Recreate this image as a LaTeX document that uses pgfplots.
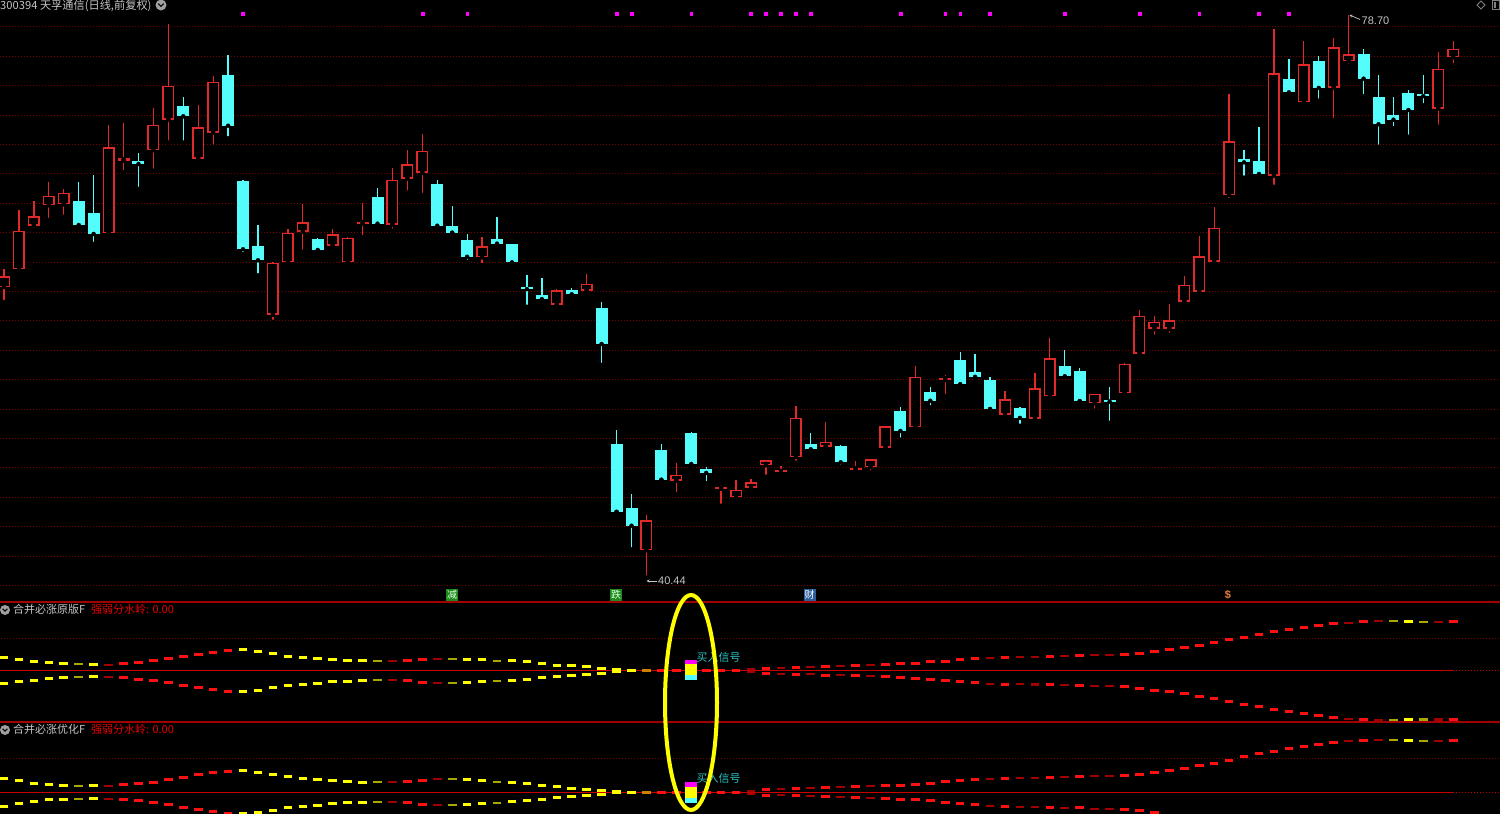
\documentclass[border=0pt]{standalone}
\usepackage{pgfplots}
\pgfplotsset{compat=1.18}
\usepackage{pgfplotstable}
\usepackage{fontspec}
\setmainfont{Liberation Sans}
\newfontfamily\cjk{Noto Sans CJK SC}
\usetikzlibrary{arrows.meta}

\definecolor{cRed}{HTML}{E02A2A}
\definecolor{cCyan}{HTML}{54FCFC}
\definecolor{gridC}{HTML}{7A0000}
\definecolor{sepC}{HTML}{A00000}
\definecolor{midC}{HTML}{C80000}
\definecolor{cYel}{HTML}{FFFF00}
\definecolor{cDYel}{HTML}{A8A800}
\definecolor{cR2}{HTML}{FF1010}
\definecolor{cDR}{HTML}{A00000}
\definecolor{cOr}{HTML}{D08000}
\definecolor{txtG}{HTML}{C4C4C4}
\definecolor{sigT}{HTML}{2CC0C0}
\definecolor{cMag}{HTML}{FF00FF}
\definecolor{tagG}{HTML}{1E8A1E}
\definecolor{tagB}{HTML}{2E5E9E}
\definecolor{tagO}{HTML}{E8803C}

% up (red) candles: index, open, high, low, close
\pgfplotstableread{
i O H L C
0 60.20 61.43 59.18 60.95
1 61.41 65.44 61.35 64.03
2 64.37 66.05 64.08 65.03
3 65.76 67.36 64.76 66.41
4 65.83 66.87 64.98 66.62
7 63.86 71.22 63.80 69.72
8 68.79 71.36 68.00 68.98
10 69.50 72.36 68.11 71.22
11 71.58 78.09 70.02 73.89
13 68.93 72.58 68.89 71.08
14 70.70 74.53 69.74 74.16
18 58.30 61.90 57.84 61.86
19 61.88 64.13 61.85 63.88
20 63.96 65.87 62.60 64.60
22 63.01 64.13 62.77 63.79
23 61.88 63.60 61.70 63.56
24 64.52 65.90 63.58 64.64
26 64.44 68.28 64.03 67.48
27 67.57 69.54 66.62 68.55
28 67.96 70.61 66.46 69.47
32 62.22 63.62 61.70 62.97
37 59.00 60.05 58.97 59.98
39 59.95 61.11 59.82 60.43
43 42.30 44.70 40.44 44.34
45 47.03 48.22 46.11 47.44
48 46.48 46.74 45.33 46.62
49 45.90 47.08 45.88 46.42
50 46.54 47.13 46.52 46.94
51 48.08 48.45 47.30 48.42
52 47.60 48.05 47.47 47.76
53 48.64 52.11 48.26 51.32
55 49.34 51.00 49.32 49.68
57 47.77 48.37 47.56 47.90
58 47.96 48.52 47.58 48.49
59 49.28 50.78 49.25 50.75
61 50.68 54.85 50.65 54.10
63 53.88 54.20 52.79 54.04
67 51.52 53.13 51.38 52.57
69 51.23 54.38 51.09 53.32
70 52.77 56.74 52.75 55.36
73 52.30 52.96 51.79 52.93
75 52.98 55.02 52.77 54.99
76 55.65 58.64 55.63 58.25
77 57.35 58.23 56.82 57.84
78 57.35 59.05 56.94 57.94
79 59.20 60.95 59.18 60.36
80 59.88 63.67 59.78 62.31
81 61.92 65.62 61.77 64.24
82 66.44 73.33 66.12 70.11
85 67.77 77.73 67.02 74.74
87 72.76 76.91 72.74 75.35
89 73.76 77.12 71.56 76.52
90 75.57 78.70 75.25 76.03
96 72.33 76.20 71.10 75.03
97 75.82 76.91 75.28 76.41
}\upT

% down (cyan) candles
\pgfplotstableread{
i O H L C
5 66.05 67.32 64.24 64.42
6 65.26 67.82 63.13 63.81
9 68.77 69.30 66.87 68.57
12 72.53 73.14 70.02 71.81
15 74.60 75.98 70.32 71.17
16 67.43 67.48 62.45 62.77
17 62.99 64.42 61.00 62.02
21 63.49 63.52 62.45 62.72
25 66.34 66.92 64.30 64.51
29 67.19 67.48 64.08 64.37
30 64.37 65.71 63.87 63.90
31 63.38 63.81 61.92 62.26
33 63.49 64.98 62.99 63.15
34 63.11 63.15 61.65 61.88
35 60.18 61.00 58.86 60.06
36 59.68 60.80 59.35 59.37
38 60.02 60.12 59.50 59.71
40 58.80 59.16 54.90 56.33
41 49.51 50.48 44.90 44.92
42 45.20 46.13 42.37 43.97
44 49.12 49.51 47.08 47.10
46 50.26 50.36 48.05 48.17
47 47.85 47.98 46.86 47.56
54 49.51 50.26 49.00 49.17
56 49.37 49.48 47.96 48.28
60 51.75 52.02 49.82 50.41
62 53.04 53.42 52.02 52.47
64 55.24 55.80 53.57 53.59
65 54.42 55.65 53.88 54.10
66 53.86 54.10 51.89 51.91
68 52.00 52.03 50.77 51.30
71 54.85 55.94 54.11 54.13
72 54.51 54.68 52.43 52.45
74 52.53 53.38 50.96 52.41
83 68.93 69.52 67.64 68.68
84 68.75 71.10 67.64 67.89
86 74.35 75.71 73.28 73.44
88 75.55 75.91 72.87 73.74
91 76.03 76.39 73.17 74.37
92 73.10 74.60 69.74 71.27
93 71.90 73.10 71.00 71.58
94 73.42 73.60 70.42 72.24
95 73.31 74.60 72.56 73.19
}\downT

% signal dots at top
\pgfplotstableread{
i v
16 78.77
28 78.77
31 78.77
41 78.77
42 78.77
46 78.77
50 78.77
51 78.77
52 78.77
53 78.77
54 78.77
60 78.77
63 78.77
64 78.77
66 78.77
71 78.77
76 78.77
80 78.77
84 78.77
86 78.77
}\dotT

% indicator: distance from the watershed line (panel 2: d2, panel 3: d3), colour class
\pgfplotstableread{
i d2 d3 c
0 13 14 Y
1 11 11.3 Y
2 9.5 9 Y
3 8 7.6 Y
4 7 7 Y
5 6.5 6.6 DY
6 6 6.3 Y
7 6 6.3 DR
8 7 7.3 R
9 8.5 8.6 R
10 10 10 R
11 12 12.3 R
12 14.5 15 R
13 16.5 17.3 R
14 18.5 19.3 R
15 20.5 21 R
16 21 21.6 Y
17 19.5 20 Y
18 17 18 Y
19 14.5 15.3 Y
20 13.5 14 Y
21 12.5 13 Y
22 11.3 11.6 Y
23 10.5 10.6 Y
24 9.7 10 Y
25 9.5 10 DY
26 9.3 10 DR
27 10 10.3 R
28 11.5 12 R
29 12 13 DR
30 12 13 DY
31 11.5 12.6 Y
32 11 11.6 Y
33 10 10.6 DY
34 9.7 9.6 Y
35 8.7 8.3 Y
36 6.8 7 Y
37 5.4 5.3 Y
38 4.7 4 Y
39 3.8 3 Y
40 2.4 2 Y
41 1 0.5 Y
42 0.3 0 Y
43 0 0 O
44 0 0 R
45 0 0 R
47 0 0 R
48 0 0 R
49 0 0 R
50 1.7 1.3 DR
51 2.5 3 R
52 3 3 DR
53 3.4 3.3 R
54 3.7 4 DR
55 4.4 4.6 R
56 4.7 5 DR
57 5 5.3 R
58 5.5 6 DR
59 5.9 6.6 R
60 6.9 7 R
61 7.5 7.6 R
62 8.7 8.6 R
63 9.5 10.3 R
64 10.8 11.3 R
65 12.3 12.3 R
66 13 13.6 DR
67 13.4 14 R
68 13.7 14.6 DR
69 13.8 14.6 DR
70 14.3 15 R
71 14.5 15.3 DR
72 15.2 15.6 R
73 15.4 16.3 DR
74 15.5 16.3 DR
75 16.2 17 R
76 17.5 18 R
77 19.4 20 R
78 21 22 R
79 23 24 R
80 25.4 26.3 R
81 28 28.6 R
82 30.7 32 R
83 33.4 35.6 R
84 36.3 38.3 R
85 39 40.6 R
86 41.3 43.3 R
87 43 45.6 R
88 45 47.6 R
89 46.7 49.6 R
90 47.9 51 DR
91 49.2 51.6 R
92 49.5 52.3 DR
93 49.5 52.3 DY
94 49.2 51.6 Y
95 48.8 51.6 DY
96 48.8 51.3 DR
97 49.2 51.6 R
}\indT

\pgfplotsset{
  base/.style={scale only axis, width=1500pt, xmin=-0.268, xmax=100.13,
    axis line style={draw=none}, xtick=\empty, ytick=\empty, clip=true,
    anchor=south west},
  ebar/.style 2 args={only marks, mark=none, forget plot,
    error bars/.cd, y dir=plus, y explicit, error mark=none,
    error bar style={line width=#1, draw=#2, line cap=butt}},
  dashes/.style={scatter, only marks, mark size=4.3pt, forget plot,
    scatter src=explicit symbolic,
    scatter/classes={
      Y={mark=-, draw=cYel, line width=3pt},
      DY={mark=-, draw=cDYel, line width=2.3pt},
      R={mark=-, draw=cR2, line width=3pt},
      DR={mark=-, draw=cDR, line width=2.1pt},
      O={mark=-, draw=cOr, line width=3pt}}},
  sigbox/.style={draw=none, fill=#1, forget plot},
}

\begin{document}
\begin{tikzpicture}
\useasboundingbox (0pt,0pt) rectangle (1500pt,814pt);
\fill[black] (0pt,0pt) rectangle (1500pt,814pt);

% ---------------- main candlestick panel ----------------
\begin{axis}[base, at={(0pt,212pt)}, height=602pt,
  ymin=38.784, ymax=79.72,
  ytick={39.9,41.9,...,77.9}, yticklabel=\empty, major tick length=0pt,
  ymajorgrids, major grid style={gridC, line width=0.9pt, dash pattern=on 0.9pt off 2.1pt}]
% wicks
\addplot[ebar={1.3pt}{cRed}] table[x=i, y=L, y error plus expr=\thisrow{H}-\thisrow{L}] {\upT};
\addplot[ebar={1.3pt}{cCyan}] table[x=i, y=L, y error plus expr=\thisrow{H}-\thisrow{L}] {\downT};
% bodies
\addplot[ebar={12pt}{cRed}] table[x=i, y=O, y error plus expr=\thisrow{C}-\thisrow{O}] {\upT};
\addplot[ebar={9pt}{black}] table[x=i, y expr=\thisrow{O}+0.102, y error plus expr={max(\thisrow{C}-\thisrow{O}-0.204,0)}] {\upT};
\addplot[ebar={12pt}{cCyan}] table[x=i, y=C, y error plus expr=\thisrow{O}-\thisrow{C}] {\downT};
% top signal dots
\addplot[only marks, mark=square*, mark size=1.4pt, cMag, forget plot] table[x=i, y=v] {\dotT};
\end{axis}

% ---------------- panel 2 ----------------
\begin{axis}[base, at={(0pt,92pt)}, height=120pt, ymin=-51.3, ymax=68.7]
\addplot[gridC, line width=0.9pt, dash pattern=on 0.9pt off 2.1pt, forget plot] coordinates {(-1,32.4) (101,32.4)};
\addplot[midC, line width=1.2pt, forget plot] coordinates {(-1,0) (97,0)};
\addplot[midC, line width=1pt, dash pattern=on 1pt off 2pt, forget plot] coordinates {(97,0) (101,0)};
\addplot[dashes] table[x=i, y=d2, meta=c] {\indT};
\addplot[dashes] table[x=i, y expr=-\thisrow{d2}, meta=c] {\indT};
\addplot[sigbox=cCyan] coordinates {(45.6,-9.3) (46.4,-9.3) (46.4,-4.3) (45.6,-4.3)} -- cycle;
\addplot[sigbox=cYel] coordinates {(45.6,-4.3) (46.4,-4.3) (46.4,6.4) (45.6,6.4)} -- cycle;
\addplot[sigbox=cMag] coordinates {(45.6,6.4) (46.4,6.4) (46.4,10.7) (45.6,10.7)} -- cycle;
\node[anchor=west, inner sep=0pt, text=sigT, font=\cjk\fontsize{11}{11}\selectfont] at (axis cs:46.35,13.7) {买入信号};
\end{axis}

% ---------------- panel 3 ----------------
\begin{axis}[base, at={(0pt,0pt)}, height=92pt, ymin=-21.7, ymax=70.3]
\addplot[gridC, line width=0.9pt, dash pattern=on 0.9pt off 2.1pt, forget plot] coordinates {(-1,33.6) (101,33.6)};
\addplot[midC, line width=1.2pt, forget plot] coordinates {(-1,0) (97,0)};
\addplot[midC, line width=1pt, dash pattern=on 1pt off 2pt, forget plot] coordinates {(97,0) (101,0)};
\addplot[dashes] table[x=i, y=d3, meta=c] {\indT};
\addplot[dashes] table[x=i, y expr=-\thisrow{d3}, meta=c] {\indT};
\addplot[sigbox=cCyan] coordinates {(45.6,-10.4) (46.4,-10.4) (46.4,-6) (45.6,-6)} -- cycle;
\addplot[sigbox=cYel] coordinates {(45.6,-6) (46.4,-6) (46.4,5.6) (45.6,5.6)} -- cycle;
\addplot[sigbox=cMag] coordinates {(45.6,5.6) (46.4,5.6) (46.4,10) (45.6,10)} -- cycle;
\node[anchor=west, inner sep=0pt, text=sigT, font=\cjk\fontsize{11}{11}\selectfont] at (axis cs:46.35,14) {买入信号};
\end{axis}

% ---------------- separators ----------------
\draw[sepC, line width=1.2pt] (0pt,212pt) -- (1500pt,212pt);
\draw[sepC, line width=1.2pt] (0pt,92pt) -- (1500pt,92pt);

% ---------------- texts and icons ----------------
\node[anchor=base west, inner sep=0pt, text=txtG, font=\cjk\fontsize{11.2}{11.2}\selectfont] at (0pt,804.5pt) {300394 天孚通信(日线,前复权)};
\fill[gray!75] (161pt,809pt) circle (5.5pt);
\draw[black, line width=1.2pt] (158.3pt,810.3pt) -- (161pt,807.6pt) -- (163.7pt,810.3pt);
\draw[gray, line width=0.8pt] (1481pt,813pt) -- (1485pt,809pt) -- (1481pt,805pt) -- (1477pt,809pt) -- cycle;
\draw[gray, line width=0.8pt] (1492.5pt,804.5pt) rectangle (1499.5pt,813.5pt);
\fill[gray] (1494pt,806pt) rectangle (1496pt,812pt);

% price extremes
\draw[txtG, line width=0.7pt, -{Stealth[length=3pt,width=3pt]}] (1360pt,794.5pt) -- (1349.5pt,799pt);
\node[anchor=base west, inner sep=0pt, text=txtG, font=\fontsize{11}{11}\selectfont] at (1361.5pt,789pt) {78.70};
\draw[txtG, line width=0.7pt, -{Stealth[length=3pt,width=3pt]}] (657pt,233pt) -- (646.5pt,233pt);
\node[anchor=base west, inner sep=0pt, text=txtG, font=\fontsize{11}{11}\selectfont] at (658pt,229pt) {40.44};

% event markers
\node[fill=tagG, text=white!85!green, inner sep=0pt, minimum width=12pt, minimum height=12pt, font=\cjk\fontsize{10}{10}\selectfont] at (452pt,219pt) {减};
\node[fill=tagG, text=white!85!green, inner sep=0pt, minimum width=12pt, minimum height=12pt, font=\cjk\fontsize{10}{10}\selectfont] at (616pt,219pt) {跌};
\node[fill=tagB, text=white, inner sep=0pt, minimum width=12pt, minimum height=12pt, font=\cjk\fontsize{10}{10}\selectfont] at (809.7pt,219pt) {财};
\node[text=tagO, inner sep=0pt, font=\fontsize{11}{11}\selectfont\bfseries] at (1228pt,219pt) {\$};

% panel titles
\fill[gray!75] (5pt,204pt) circle (5pt);
\draw[black, line width=1.1pt] (2.6pt,205.2pt) -- (5pt,202.8pt) -- (7.4pt,205.2pt);
\node[anchor=base west, inner sep=0pt, text=txtG, font=\cjk\fontsize{11}{11}\selectfont] at (13pt,200pt) {合并必涨原版F};
\node[anchor=base west, inner sep=0pt, text=red!90!black, font=\cjk\fontsize{11}{11}\selectfont] at (91pt,200pt) {强弱分水岭: 0.00};
\fill[gray!75] (5pt,84pt) circle (5pt);
\draw[black, line width=1.1pt] (2.6pt,85.2pt) -- (5pt,82.8pt) -- (7.4pt,85.2pt);
\node[anchor=base west, inner sep=0pt, text=txtG, font=\cjk\fontsize{11}{11}\selectfont] at (13pt,80pt) {合并必涨优化F};
\node[anchor=base west, inner sep=0pt, text=red!90!black, font=\cjk\fontsize{11}{11}\selectfont] at (91pt,80pt) {强弱分水岭: 0.00};

% highlight ellipse
\draw[cYel, line width=4pt] (691pt,111.5pt) ellipse [x radius=26pt, y radius=107.5pt];
\end{tikzpicture}
\end{document}
